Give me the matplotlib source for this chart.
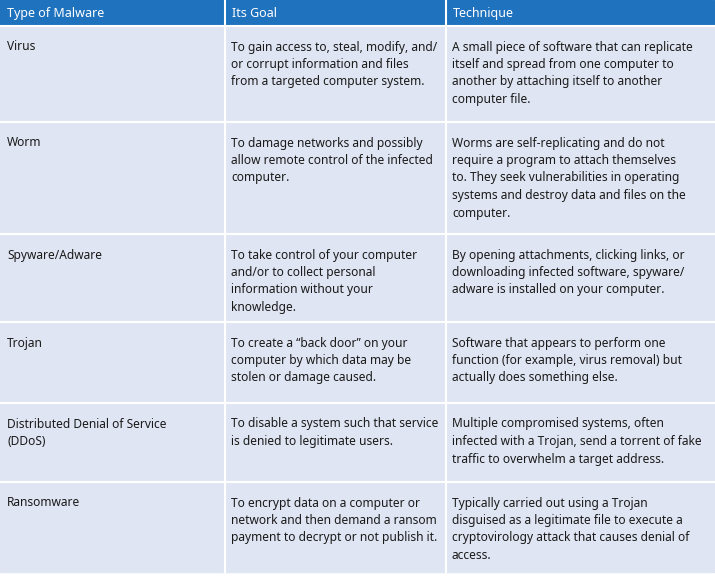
import matplotlib
matplotlib.use("Agg")
import matplotlib.pyplot as plt
from matplotlib.patches import Rectangle

headers = ["Type of Malware", "Its Goal", "Technique"]
types = ["Virus", "Worm", "Spyware/Adware", "Trojan", "Distributed Denial of Service\n(DDoS)", "Ransomware"]
goals = [
    "To gain access to, steal, modify, and/\nor corrupt information and files\nfrom a targeted computer system.",
    "To damage networks and possibly\nallow remote control of the infected\ncomputer.",
    "To take control of your computer\nand/or to collect personal\ninformation without your\nknowledge.",
    "To create a \u201cback door\u201d on your\ncomputer by which data may be\nstolen or damage caused.",
    "To disable a system such that service\nis denied to legitimate users.",
    "To encrypt data on a computer or\nnetwork and then demand a ransom\npayment to decrypt or not publish it.",
]
techniques = [
    "A small piece of software that can replicate\nitself and spread from one computer to\nanother by attaching itself to another\ncomputer file.",
    "Worms are self-replicating and do not\nrequire a program to attach themselves\nto. They seek vulnerabilities in operating\nsystems and destroy data and files on the\ncomputer.",
    "By opening attachments, clicking links, or\ndownloading infected software, spyware/\nadware is installed on your computer.",
    "Software that appears to perform one\nfunction (for example, virus removal) but\nactually does something else.",
    "Multiple compromised systems, often\ninfected with a Trojan, send a torrent of fake\ntraffic to overwhelm a target address.",
    "Typically carried out using a Trojan\ndisguised as a legitimate file to execute a\ncryptovirology attack that causes denial of\naccess.",
]

col_edges = [0, 225, 446, 714]
row_edges = [0, 26, 122, 234, 322, 403, 482, 572]
font = "Noto Sans"
fs = 8.6
lh = 17.5

fig = plt.figure(figsize=(7.15, 5.78), dpi=100)
ax = fig.add_axes([0, 0, 1, 1])
ax.set_xlim(0, 715)
ax.set_ylim(578, 0)
ax.axis("off")

ax.add_patch(Rectangle((0, 0), 714, 26, color="#1f72bd"))
ax.add_patch(Rectangle((0, 26), 714, 546, color="#dfe5f2"))
for x in col_edges[1:-1]:
    ax.plot([x, x], [0, 572], color="white", lw=1.5)
for y in row_edges[2:-1]:
    ax.plot([0, 714], [y, y], color="white", lw=1.5)
ax.plot([0, 714], [26, 26], color="white", lw=1.5)

for j, h in enumerate(headers):
    ax.text(col_edges[j] + 7, 13.5, h, color="white", fontweight="bold",
            fontsize=fs + 0.4, family=font, va="center", ha="left")

for i in range(len(types)):
    top = row_edges[i + 1]
    for j, cell in enumerate([types[i], goals[i], techniques[i]]):
        for k, line in enumerate(cell.split("\n")):
            ax.text(col_edges[j] + 7 if j == 0 else col_edges[j] + 6, top + 21 + lh * k, line,
                    color="#1a1a1a", fontsize=fs, family=font,
                    fontweight="bold" if j == 0 else "normal", va="center", ha="left")

fig.savefig("out.png", dpi=100)
